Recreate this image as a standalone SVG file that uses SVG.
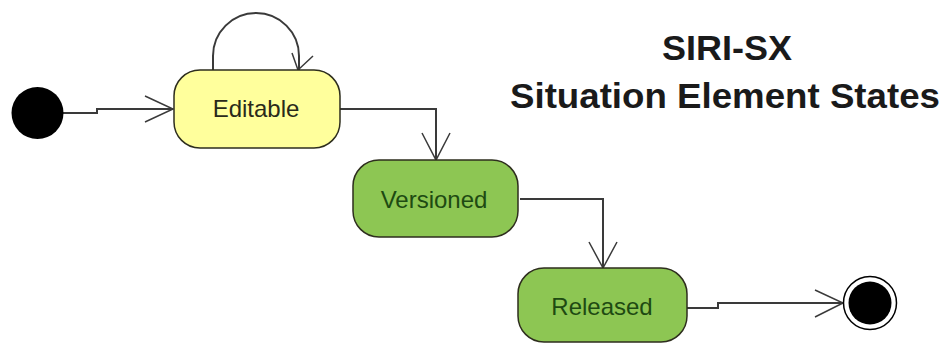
<svg xmlns="http://www.w3.org/2000/svg" width="946" height="344" viewBox="0 0 946 344">
<style>
.state{stroke:#2e2e1e;stroke-width:1.5}
.yellow{fill:#ffff9c}
.green{fill:#8dc653}
.lbl{font-family:"Liberation Sans",Arial,sans-serif;font-size:24px;text-anchor:middle}
.conn{fill:none;stroke:#3a3a3a;stroke-width:2}
.head{fill:none;stroke:#3a3a3a;stroke-width:1.5}
.title{font-family:"Liberation Sans",Arial,sans-serif;font-weight:bold;font-size:35px;text-anchor:middle;fill:#1a1a1a}
</style>
<rect width="946" height="344" fill="#ffffff"/>
<g id="title">
<text class="title" x="727" y="60" textLength="130" lengthAdjust="spacingAndGlyphs">SIRI-SX</text>
<text class="title" x="725" y="108" textLength="430" lengthAdjust="spacingAndGlyphs">Situation Element States</text>
</g>
<g id="connectors">
<path class="conn" d="M63,113 L97,113 L97,109 L173,109"/>
<path class="head" d="M145,96 L173,109 L145,122"/>
<path class="conn" d="M213,70 L213,56 A43,43 0 0 1 299,56 L299,70"/>
<path class="head" d="M292,53 L298,70 L313,56"/>
<path class="conn" d="M340,109 L436,109 L436,160"/>
<path class="head" d="M422,133 L436,160 L450,133"/>
<path class="conn" d="M520,199 L603,199 L603,268"/>
<path class="head" d="M589,242 L603,268 L617,242"/>
<path class="conn" d="M687,308 L718,308 L718,303 L843,303"/>
<path class="head" d="M815,290 L843,303 L815,317"/>
</g>
<g id="initial">
<circle cx="37.5" cy="113" r="26" fill="#000"/>
</g>
<g id="editable">
<rect class="state yellow" x="174" y="70" width="166" height="78" rx="26"/>
<text class="lbl" x="256" y="117" fill="#2a2a1a">Editable</text>
</g>
<g id="versioned">
<rect class="state green" x="353" y="160" width="165" height="77" rx="26"/>
<text class="lbl" x="434" y="207.5" fill="#1e4a12">Versioned</text>
</g>
<g id="released">
<rect class="state green" x="518" y="268" width="169" height="74" rx="26"/>
<text class="lbl" x="602" y="315" fill="#1e4a12">Released</text>
</g>
<g id="final">
<circle cx="870" cy="303" r="26.5" fill="#fff" stroke="#000" stroke-width="1.5"/>
<circle cx="870" cy="303" r="21.5" fill="#000"/>
</g>
</svg>
